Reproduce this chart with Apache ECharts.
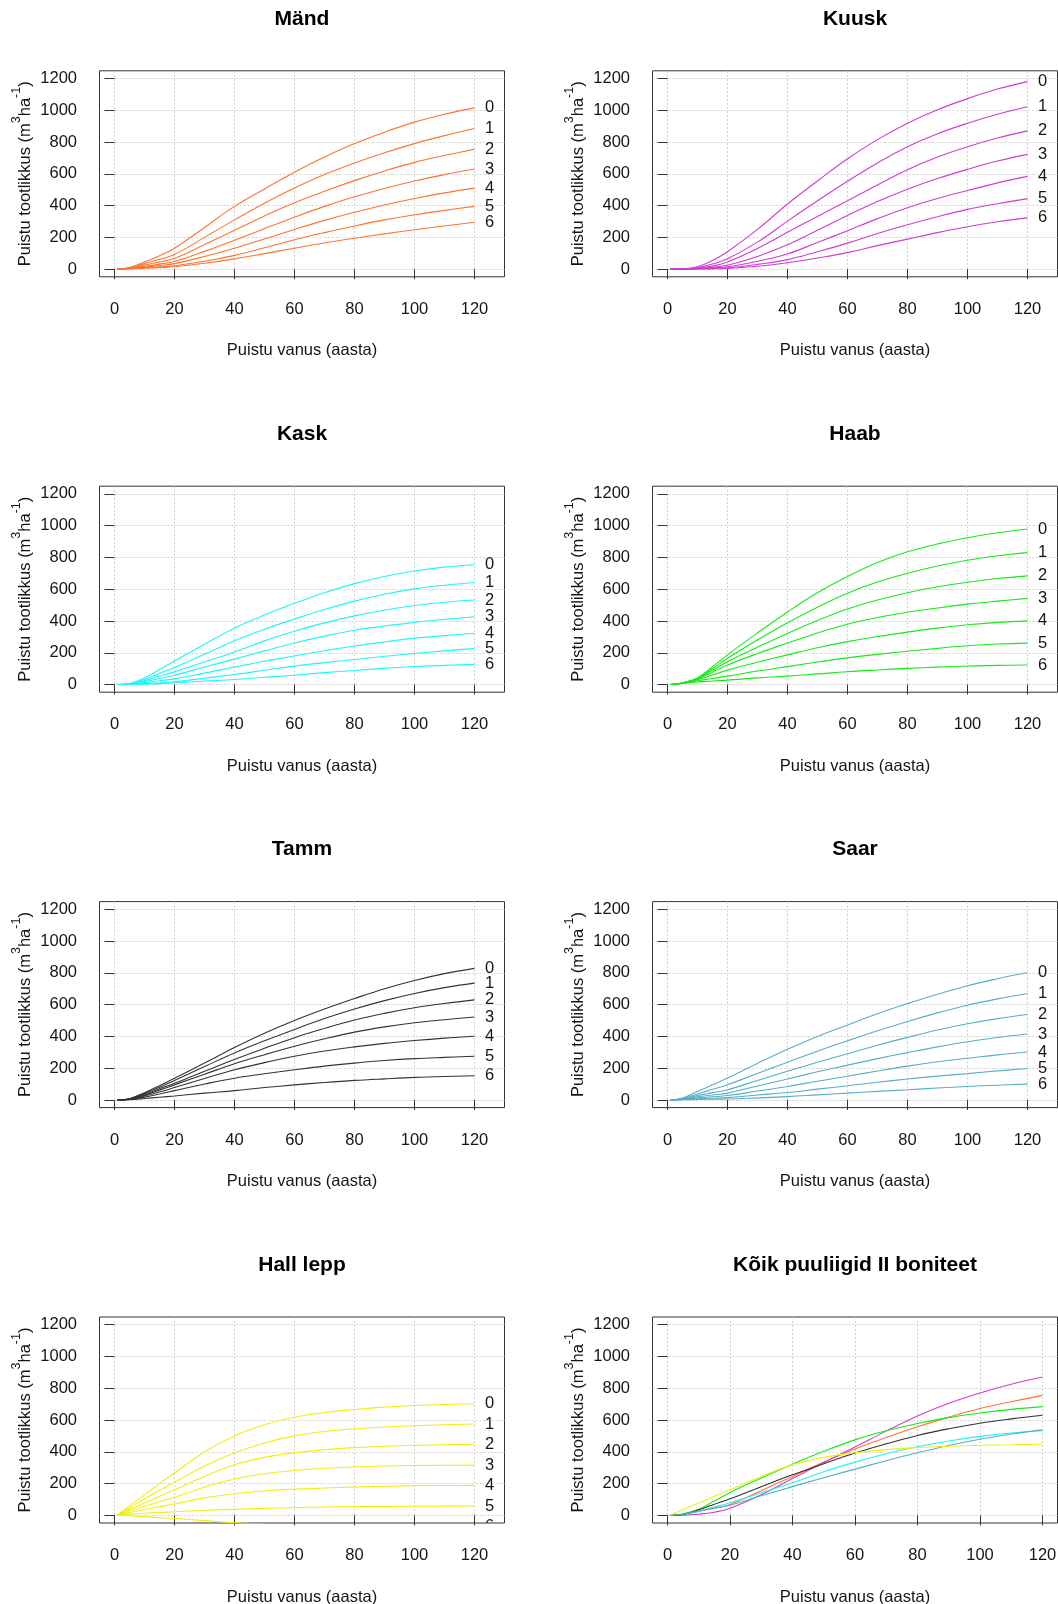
<!DOCTYPE html>
<html>
<head>
<meta charset="utf-8">
<script src="https://cdn.jsdelivr.net/npm/echarts@6/dist/echarts.min.js"></script>
<style>
  html, body { margin: 0; padding: 0; background: #ffffff; }
  #chart { width: 1058px; height: 1604px; }
</style>
</head>
<body>
<div id="chart"></div>
<script>
// Stand age (years) at which volumes are given
const ages = [1, 5, 10, 15, 20, 30, 40, 50, 60, 70, 80, 90, 100, 110, 120];
const xTicks = [0, 20, 40, 60, 80, 100, 120];
const yTicks = [0, 200, 400, 600, 800, 1000, 1200];
const siteClasses = [0, 1, 2, 3, 4, 5, 6];

// Stand volume (m3/ha) per site class 0..6, one row per class
const mand = [
  [0, 10, 45, 85, 132, 262, 395, 505, 610, 705, 790, 862, 925, 975, 1015],
  [0, 8, 35, 62, 92, 200, 310, 415, 510, 595, 668, 733, 790, 840, 885],
  [0, 6, 26, 45, 68, 155, 245, 335, 418, 490, 557, 618, 672, 715, 755],
  [0, 5, 18, 32, 48, 112, 182, 255, 327, 395, 455, 508, 555, 595, 630],
  [0, 4, 13, 23, 35, 80, 132, 190, 250, 307, 358, 404, 445, 480, 510],
  [0, 3, 9, 15, 22, 50, 87, 135, 185, 230, 272, 310, 342, 370, 395],
  [0, 2, 6, 10, 15, 37, 65, 98, 132, 165, 195, 222, 248, 272, 295]
];
const kuusk = [
  [0, 1, 15, 55, 110, 250, 410, 555, 695, 815, 918, 1003, 1073, 1133, 1180],
  [0, 1, 10, 32, 65, 170, 302, 430, 553, 668, 770, 852, 918, 975, 1022],
  [0, 1, 7, 20, 45, 130, 232, 332, 430, 530, 625, 705, 770, 825, 870],
  [0, 0, 5, 13, 25, 80, 153, 245, 338, 425, 503, 570, 628, 680, 722],
  [0, 0, 3, 8, 15, 50, 96, 168, 242, 318, 387, 445, 495, 543, 584],
  [0, 0, 2, 5, 8, 30, 60, 110, 164, 225, 280, 330, 376, 412, 444],
  [0, 0, 1, 2, 4, 18, 40, 70, 104, 148, 189, 230, 267, 298, 323]
];
const kask = [
  [0, 6, 42, 95, 148, 254, 355, 437, 511, 578, 635, 680, 714, 739, 754],
  [0, 5, 32, 70, 106, 190, 275, 348, 412, 472, 525, 568, 602, 625, 642],
  [0, 4, 25, 52, 80, 142, 205, 275, 335, 388, 432, 468, 497, 518, 532],
  [0, 3, 18, 38, 59, 110, 160, 212, 262, 305, 342, 368, 391, 410, 427],
  [0, 2, 12, 24, 36, 72, 110, 147, 180, 213, 243, 268, 292, 308, 323],
  [0, 1, 6, 11, 17, 40, 63, 90, 116, 138, 158, 178, 195, 212, 226],
  [0, 1, 3, 6, 11, 22, 32, 46, 59, 75, 89, 102, 114, 121, 127]
];
const haab = [
  [0, 10, 42, 112, 187, 325, 457, 578, 680, 768, 835, 885, 924, 955, 979],
  [0, 10, 40, 100, 166, 280, 389, 487, 575, 645, 700, 746, 782, 810, 830],
  [0, 10, 38, 90, 144, 235, 322, 403, 475, 532, 578, 615, 644, 667, 684],
  [0, 10, 34, 78, 123, 195, 261, 325, 380, 422, 455, 482, 506, 525, 542],
  [0, 9, 30, 60, 91, 140, 187, 232, 270, 302, 330, 355, 376, 391, 401],
  [0, 8, 24, 38, 53, 85, 113, 142, 168, 190, 210, 228, 244, 255, 261],
  [0, 7, 16, 22, 28, 42, 53, 67, 81, 92, 102, 110, 117, 121, 123]
];
const tamm = [
  [0, 8, 46, 90, 137, 232, 330, 420, 500, 572, 638, 700, 752, 795, 828],
  [0, 7, 40, 80, 123, 210, 296, 372, 444, 512, 572, 625, 670, 707, 735],
  [0, 6, 35, 70, 105, 180, 255, 325, 392, 450, 503, 545, 580, 607, 630],
  [0, 5, 30, 62, 95, 162, 228, 285, 338, 385, 427, 460, 486, 505, 522],
  [0, 4, 25, 50, 78, 135, 190, 235, 275, 308, 334, 356, 374, 389, 401],
  [0, 3, 18, 38, 59, 100, 137, 165, 190, 213, 232, 248, 260, 268, 275],
  [0, 2, 9, 17, 25, 43, 59, 78, 95, 110, 123, 133, 142, 148, 152]
];
const saar = [
  [0, 12, 53, 95, 138, 230, 319, 400, 472, 543, 606, 665, 719, 763, 802],
  [0, 9, 38, 67, 96, 167, 238, 307, 372, 435, 494, 548, 596, 636, 670],
  [0, 7, 28, 46, 64, 123, 181, 237, 291, 344, 394, 440, 479, 512, 538],
  [0, 5, 20, 31, 43, 88, 132, 177, 219, 260, 298, 334, 366, 393, 415],
  [0, 4, 13, 20, 28, 56, 85, 118, 149, 182, 213, 240, 262, 284, 302],
  [0, 2, 7, 11, 15, 31, 47, 68, 89, 111, 132, 150, 166, 183, 198],
  [0, 1, 3, 5, 6, 13, 21, 32, 43, 54, 64, 75, 85, 93, 100]
];
const hallLepp = [
  [3, 60, 129, 200, 267, 399, 500, 570, 617, 647, 666, 681, 691, 697, 702],
  [3, 48, 103, 158, 208, 310, 392, 455, 500, 528, 545, 556, 564, 570, 575],
  [3, 37, 78, 120, 161, 245, 318, 365, 394, 413, 426, 435, 441, 444, 447],
  [3, 27, 56, 86, 114, 177, 229, 262, 282, 296, 305, 311, 314, 315, 316],
  [3, 18, 36, 55, 72, 110, 136, 153, 165, 172, 178, 183, 187, 188, 189],
  [3, 8, 13, 18, 23, 32, 38, 44, 49, 53, 55, 56, 57, 58, 59],
  [3, -2, -8, -14, -19, -33, -47, -55, -61, -65, -67, -68, -69, -69, -70]
];

const speciesNames = ['Mänd', 'Kuusk', 'Kask', 'Haab', 'Tamm', 'Saar', 'Hall lepp'];
const speciesTables = [mand, kuusk, kask, haab, tamm, saar, hallLepp];
const summaryTitle = 'Kõik puuliigid II boniteet';
const summaryClass = 2;
const xTitle = 'Puistu vanus (aasta)';

// ---- styling / layout ----
const speciesColors = ['#ff7430', '#d03cd0', '#1ff5f5', '#14ec14', '#333333', '#58aec6', '#f2ee12'];
const FONT = '"Liberation Sans", Arial, sans-serif';
const TEXT = '#151515';
const FRAME = '#333333';
const colLeft = [99.5, 652.5];
const rowTop = [70.8, 486.2, 901.6, 1317];
const boxW = 405, boxH = 206;
const labelAge = 125;

const chart = echarts.init(document.getElementById('chart'), null, { renderer: 'canvas' });

const grids = [], xAxes = [], yAxes = [], series = [], graphics = [];

function panelBox(i) {
  return { left: colLeft[i % 2], top: rowTop[Math.floor(i / 2)] };
}

function addPanel(i, title, xMin, xMax) {
  const b = panelBox(i);
  grids.push({
    left: b.left, top: b.top, width: boxW, height: boxH,
    show: true, borderColor: FRAME, borderWidth: 1, backgroundColor: 'transparent',
    containLabel: false, outerBoundsMode: 'none'
  });
  const split = { show: true, lineStyle: { color: '#d0d0d0', type: [2, 2], width: 1 } };
  const tick = { show: true, length: 10, lineStyle: { color: FRAME, width: 1 } };
  const lab = { fontSize: 16.5, fontFamily: FONT, color: TEXT, formatter: v => String(v) };
  xAxes.push({
    type: 'value', gridIndex: i, min: xMin, max: xMax,
    axisLine: { show: false },
    axisTick: Object.assign({ customValues: xTicks }, tick),
    axisLabel: Object.assign({ customValues: xTicks, margin: 24 }, lab),
    splitLine: split
  });
  yAxes.push({
    type: 'value', gridIndex: i, min: -48, max: 1248,
    axisLine: { show: false },
    axisTick: Object.assign({ customValues: yTicks }, tick),
    axisLabel: Object.assign({ customValues: yTicks, margin: 22.5 }, lab),
    splitLine: split
  });
  // panel title
  graphics.push({
    type: 'text', x: b.left + boxW / 2, y: b.top - 52,
    style: { text: title, align: 'center', verticalAlign: 'middle',
      font: 'bold 21px ' + FONT, fill: '#000' }
  });
  // x axis title
  graphics.push({
    type: 'text', x: b.left + boxW / 2, y: b.top + boxH + 74,
    style: { text: xTitle, align: 'center', verticalAlign: 'middle',
      font: '16.5px ' + FONT, fill: TEXT }
  });
  // y axis title with superscripts
  graphics.push({
    type: 'text', x: b.left - 74, y: b.top + boxH / 2, rotation: Math.PI / 2,
    style: {
      text: '{n|Puistu tootlikkus (m}{s|3}{n|ha}{s|-1}{n|)}',
      align: 'center', verticalAlign: 'middle',
      rich: {
        n: { fontSize: 16.5, fontFamily: FONT, fill: TEXT, lineHeight: 30, verticalAlign: 'middle' },
        s: { fontSize: 12.5, fontFamily: FONT, fill: TEXT, lineHeight: 12, verticalAlign: 'top' }
      }
    }
  });
}

function lineSeries(i, values, color) {
  return {
    type: 'line', xAxisIndex: i, yAxisIndex: i,
    data: ages.map((a, k) => [a, values[k]]),
    showSymbol: false, symbol: 'none', smooth: 0.4,
    clip: true, silent: true, animation: false,
    lineStyle: { color: color, width: 1.1 }
  };
}

speciesTables.forEach((table, i) => {
  addPanel(i, speciesNames[i], -5, 130);
  table.forEach(values => series.push(lineSeries(i, values, speciesColors[i])));
  // class numbers at the end of each curve
  series.push({
    type: 'custom', xAxisIndex: i, yAxisIndex: i, clip: true, silent: true, animation: false,
    data: table.map((values, c) => [labelAge, values[values.length - 1], siteClasses[c]]),
    renderItem: (params, api) => {
      const p = api.coord([api.value(0), api.value(1)]);
      return {
        type: 'text', x: p[0], y: p[1],
        style: { text: String(api.value(2)), align: 'center', verticalAlign: 'middle',
          font: '16.5px ' + FONT, fill: TEXT }
      };
    }
  });
});

// all species, site class II
addPanel(7, summaryTitle, -4.8, 124.8);
speciesTables.forEach((table, s) => series.push(lineSeries(7, table[summaryClass], speciesColors[s])));

chart.setOption({
  backgroundColor: '#ffffff',
  animation: false,
  grid: grids, xAxis: xAxes, yAxis: yAxes, series: series, graphic: graphics
});
</script>
</body>
</html>
